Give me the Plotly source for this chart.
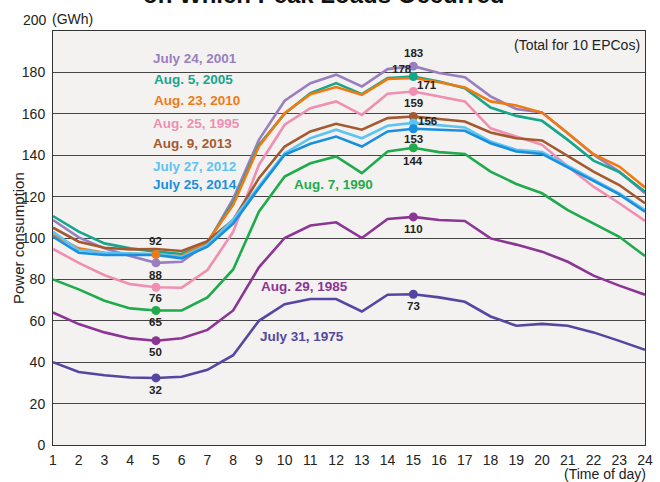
import plotly.graph_objects as go

hours = list(range(1, 25))

y1975 = [40, 35.3, 33.7, 32.6, 32.4, 33, 36.3, 43.4, 60, 68, 70.5, 70.5, 64.5, 72.6, 72.8, 71.3, 69.2, 62.1, 57.6, 58.5, 57.6, 54.4, 50.3, 46]
y1985 = [64, 58.4, 54.4, 51.5, 50.4, 51.6, 55.6, 65, 85.8, 100, 106, 107.6, 100, 109.2, 110.2, 108.7, 108.2, 99.8, 96.8, 93.4, 88.5, 81.8, 77, 72.6]
y1990 = [80, 75.2, 69.7, 66, 65, 65, 71.3, 84.8, 112.7, 129.7, 136.1, 139.4, 131.3, 141.8, 143.6, 141.5, 140.6, 132.1, 126.1, 121.6, 113.5, 107.1, 100.6, 91.3]
y1995 = [94.7, 88, 82, 77.7, 76.2, 76, 84.5, 103, 135.3, 154.7, 162.7, 166, 159.5, 169.7, 170.8, 168.4, 166, 153, 149, 145, 134.5, 124.8, 116.8, 108.3]
y2001 = [108.7, 100.3, 95, 91.3, 88, 88.5, 97.4, 119, 147.4, 166.3, 174.8, 178.9, 173.2, 181.6, 183, 179.7, 177.7, 168.4, 162.3, 160.6, 150.6, 140.2, 132.1, 121.6]
y2005 = [110.6, 103.1, 97.4, 95, 93.4, 92.3, 98, 117, 145, 160, 170, 174.8, 169.5, 177.3, 178, 175.6, 172.4, 163, 159, 156.6, 147.4, 137.4, 131.8, 122.4]
y2010 = [101.5, 95, 92.9, 92.3, 92, 91.3, 98.2, 116, 144.2, 160.3, 169.5, 172.9, 169.2, 176.8, 177.3, 175.2, 172.7, 166, 164, 160.6, 150.6, 140.5, 134.5, 124.4]
y2012 = [103, 94.2, 92.9, 92.6, 92.3, 91, 96.6, 109, 124.8, 141, 148.2, 152.3, 148.2, 154.2, 155.6, 154.4, 153.4, 146.6, 142.6, 141.5, 134.8, 128, 121.6, 113.5]
y2013 = [105, 98.2, 95.3, 94.5, 94.7, 93.7, 98.5, 108.7, 128.9, 144.2, 151.5, 155.2, 152.3, 157.9, 158.7, 157.6, 156.3, 151, 148.2, 147.1, 139.7, 132.1, 125.6, 116.8]
y2014 = [100.6, 92.9, 91.8, 91.8, 91.8, 90.2, 95.8, 107, 124, 140.2, 145.5, 149, 144.2, 151.5, 152.8, 152.3, 151.8, 145.8, 141.8, 140.6, 134, 127.3, 121.1, 112.7]

series_names = ["July 31, 1975", "Aug. 29, 1985", "Aug. 7, 1990", "Aug. 25, 1995", "July 24, 2001",
                "Aug. 5, 2005", "Aug. 23, 2010", "Aug. 9, 2013", "July 27, 2012", "July 25, 2014"]
series_values = [y1975, y1985, y1990, y1995, y2001, y2005, y2010, y2013, y2012, y2014]

y_ticks = [0, 20, 40, 60, 80, 100, 120, 140, 160, 180]

# styles (kept separate from data)
colors = ["#5546a2", "#8b3594", "#1fab4b", "#f08fb2", "#9a7fc0",
          "#17a68c", "#f07a12", "#a4592f", "#5ec3f0", "#1a8fde"]
# label positions (x in hours, y in value units) for series names
name_pos = [(8.95, 52.5), (9.0, 76.5), (10.3, 126), (4.8, 155.5),
            (4.8, 186.5), (4.85, 176.5), (4.85, 166.5), (4.8, 145.5),
            (4.8, 134.5), (4.8, 126)]
# marker label specs: (series index, hour, xshift, yshift)
mark_specs = [
    (6, 5, 0, 14), (4, 5, 0, -12), (3, 5, 0, -11), (2, 5, 0, -12), (1, 5, 0, -11), (0, 5, 0, -12),
    (4, 15, 0, 13), (5, 15, -11, 8), (3, 15, 14, 6), (7, 15, 0, 13), (8, 15, 14, 2),
    (9, 15, 0, -10), (2, 15, 0, -13), (1, 15, 0, -12), (0, 15, 0, -12),
]

REG = "Liberation Sans, Arial, Helvetica, sans-serif"

fig = go.Figure()
for name, vals, col in zip(series_names, series_values, colors):
    fig.add_trace(go.Scatter(x=hours, y=vals, mode="lines", name=name,
                             line=dict(color=col, width=2.6), hoverinfo="x+y+name"))

annotations = []
mx, my, mc = [], [], []
for si, h, xs, ys in mark_specs:
    v = series_values[si][h - 1]
    mx.append(h); my.append(v); mc.append(colors[si])
    annotations.append(dict(x=h, y=v, xref="x", yref="y", text=f"<b>{round(v)}</b>",
                            showarrow=False, xshift=xs, yshift=ys,
                            font=dict(family=REG, size=11.5, color="#222")))
fig.add_trace(go.Scatter(x=mx, y=my, mode="markers", marker=dict(color=mc, size=9),
                         showlegend=False, hoverinfo="skip"))

for (x, y), name, col in zip(name_pos, series_names, colors):
    annotations.append(dict(x=x, y=y, xref="x", yref="y", text=f"<b>{name}</b>", showarrow=False,
                            xanchor="left", font=dict(family=REG, size=13.5, color=col)))

annotations += [
    dict(x=1, y=0.967, xref="paper", yref="paper", text="(Total for 10 EPCos)", showarrow=False,
         xanchor="right", xshift=-3, yanchor="middle", font=dict(family=REG, size=14, color="#222")),
    dict(x=0, y=1, xref="paper", yref="paper", text="200", showarrow=False, xanchor="right",
         yanchor="middle", xshift=-4, yshift=11, font=dict(family=REG, size=14, color="#222")),
    dict(x=0, y=1, xref="paper", yref="paper", text="(GWh)", showarrow=False, xanchor="left",
         yanchor="middle", xshift=-3, yshift=12, font=dict(family=REG, size=14, color="#222")),
    dict(x=1, y=0, xref="paper", yref="paper", text="(Time of day)", showarrow=False, xanchor="right",
         yanchor="middle", xshift=3, yshift=-29, font=dict(family=REG, size=14, color="#222")),
    dict(x=0, y=0.5, xref="paper", yref="paper", text="Power consumption", showarrow=False,
         textangle=-90, xanchor="center", yanchor="middle", xshift=-35,
         font=dict(family=REG, size=15, color="#222")),
    dict(x=0.4575, y=1, xref="paper", yref="paper", text="<b>on Which Peak Loads Occurred</b>",
         showarrow=False, xanchor="center", yanchor="bottom", yshift=21,
         font=dict(family=REG, size=24, color="#111")),
]

fig.update_layout(
    width=660, height=482,
    margin=dict(l=53, r=7, t=31, b=37),
    paper_bgcolor="white", plot_bgcolor="#f3f2f1",
    showlegend=False,
    annotations=annotations,
    xaxis=dict(range=[1, 24], tickvals=hours, ticktext=[str(h) for h in hours],
               showgrid=False, zeroline=False, showline=True, mirror=True,
               linecolor="#333", linewidth=1, ticks="", ticklabelstandoff=2,
               ticklabeloverflow="allow",
               tickfont=dict(family=REG, size=14, color="#222")),
    yaxis=dict(range=[0, 200], tickvals=y_ticks, ticktext=[str(t) for t in y_ticks],
               showgrid=True, gridcolor="#444", gridwidth=1, zeroline=False,
               showline=True, mirror=True, linecolor="#333", linewidth=1, ticks="",
               ticklabelstandoff=4,
               tickfont=dict(family=REG, size=14, color="#222")),
)

# remove the default 8px page margin so the figure sits at the window's top-left corner
fig.write_html("out.html", config={"displayModeBar": False},
               post_script="document.body.style.margin='0px';")
